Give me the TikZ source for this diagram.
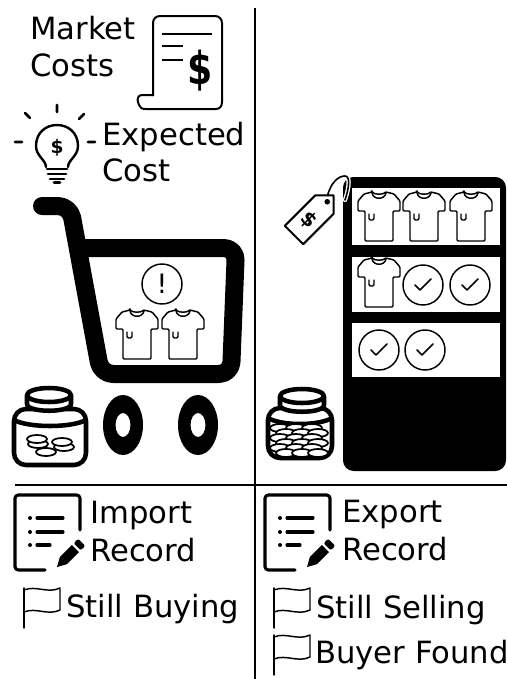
\documentclass[tikz,border=0pt]{standalone}
\usepackage{fontspec}
\usepackage{graphicx}
\setmainfont{DejaVu Sans}
\begin{document}
\begin{tikzpicture}[x=0.75pt,y=-0.75pt,
  lbl/.style={font=\fontsize{23}{27}\selectfont,inner sep=0pt,anchor=base west},
  icon/.style={line width=1.9pt,line cap=round,line join=round},
  fine/.style={line width=1.1pt,line cap=round,line join=round},
  rule/.style={line width=1.9pt},
  jarline/.style={line width=3.4pt,line join=round},
  coin/.style={line width=1.3pt,fill=white},
  flagline/.style={line width=1.1pt,line cap=round,line join=round},
  recline/.style={line width=2.3pt,line cap=round},
  tshirt/.pic={
    \draw[fine,fill=white,rounded corners=0.8pt] (-7,0) -- (-15,2) -- (-21,9) -- (-21,19) -- (-14,19)
      -- (-14,49) -- (14,49) -- (14,19) -- (21,19) -- (21,9) -- (15,2) -- (7,0)
      .. controls (6,8) and (-6,8) .. (-7,0) -- cycle;
    \draw[fine] (-7,0) .. controls (-4,3) and (4,3) .. (7,0);
    \draw[fine,rounded corners=1pt] (-10,22) -- (-10,28) -- (-5,28) -- (-5,22);
  },
  checkcircle/.pic={
    \draw[fine,fill=white] (0,0) circle (20);
    \draw[fine] (-8,0) -- (-3,5) -- (8,-6);
  },
  recordicon/.pic={
    \draw[recline,rounded corners=2.5pt] (65,35) -- (65,0) -- (0,0) -- (0,75) -- (30,75);
    \fill (15,23) circle (2) (15,37) circle (2) (15,50) circle (2);
    \draw[recline] (22,23) -- (48,23) (22,37) -- (48,37) (22,50) -- (35,50);
    \begin{scope}[shift={(42,72)},rotate=45]
      \fill (0,0) -- (9,-5) -- (26,-5) -- (26,5) -- (9,5) -- cycle;
      \fill[rounded corners=1.5pt] (28.5,-5) rectangle (35,5);
    \end{scope}
  },
  flagicon/.pic={
    \draw[flagline] (0,0) -- (0,40);
    \draw[flagline] (0,2) .. controls (12,-3) and (24,6) .. (36,0) -- (36,22)
      .. controls (24,28) and (12,19) .. (0,24);
  }
]
\fill[white] (0,0) rectangle (507,679);
\useasboundingbox (0,0) rectangle (507,679);

% dividers
\draw[rule] (255,8) -- (255,679);
\draw[rule] (15,485) -- (507,485);

% ---------- market costs: receipt ----------
\draw[line width=1.5pt,line join=round,fill=white] (153,96) -- (153,23) .. controls (153,19) and (156,16) .. (160,16)
  -- (215,16) .. controls (219,16) and (222,19) .. (222,23) -- (222,102);
\draw[line width=1.5pt,line join=round] (153,95) -- (142,95) .. controls (138,95) and (137,99) .. (138,102)
  -- (139,105) .. controls (140,108) and (142,109) .. (146,109) -- (216,109)
  .. controls (220,109) and (222,106) .. (222,102);
\draw[line width=1.6pt] (162,34) -- (212,34) (162,46) -- (183,46) (162,60) -- (183,60);
\node[font=\bfseries\fontsize{34}{34}\selectfont,inner sep=0pt] (receiptSign) at (200,71) {\scalebox{0.8}[1]{\$}};
\node[lbl] (txtMarket) at (30,39.5) {Market};
\node[lbl] (txtCosts) at (30,76.5) {Costs};

% ---------- expected cost: light bulb ----------
\draw[icon,line width=1.8pt] (46,167) .. controls (46,160) and (36,156) .. (36,146)
  .. controls (36,118) and (78,118) .. (78,146) .. controls (78,156) and (68,160) .. (68,167);
\draw[line width=2.2pt,line cap=round] (47,169) -- (67,169) (48,174) -- (66,174) (50,179) -- (64,179) (54,182.5) -- (60,182.5);
\draw[icon] (57,105) -- (57,112) (25,113) -- (30,118) (84,114) -- (79,119) (15,142) -- (22,142) (88,142) -- (95,142);
\node[font=\bfseries\fontsize{14}{14}\selectfont,inner sep=0pt] (bulbSign) at (57,148) {\$};
\node[lbl] (txtExpected) at (102,145) {Expected};
\node[lbl] (txtCost) at (102,181) {Cost};

% ---------- shopping cart ----------
\draw[line width=13.5pt,line cap=round,line join=round,rounded corners=9pt]
  (42,206) -- (70,206) -- (101,374) -- (231,374) -- (236,248) -- (79,248);
\fill[even odd rule] (123,425) ellipse (20 and 30) (123,425) ellipse (7.5 and 12);
\fill[even odd rule] (198,425) ellipse (20 and 30) (198,425) ellipse (7.5 and 12);
\draw[fine] (162,284) circle (20);
\node[font=\fontsize{20}{20}\selectfont,inner sep=0pt] (alertMark) at (162,284) {!};
\pic at (137,310) {tshirt};
\pic at (183,310) {tshirt};

% ---------- coin jar (few coins) ----------
\begin{scope}[shift={(49,395)}]
  \draw[jarline,fill=white,rounded corners=9pt] (-35,14) rectangle (37,70);
  \draw[jarline] (-35,25) .. controls (-20,33) and (22,33) .. (37,25);
  \draw[coin] (-11,49) ellipse (10 and 4);
  \draw[coin] (-12,44) ellipse (10 and 4);
  \draw[coin] (15,52) ellipse (10 and 4);
  \draw[coin] (13,47) ellipse (10 and 4);
  \draw[coin] (-3,57) ellipse (10 and 4);
  \draw[jarline,fill=white] (-22,0) -- (-22,9) .. controls (-22,18) and (22,18) .. (22,9) -- (22,0);
  \draw[jarline,fill=white] (0,0) ellipse (22 and 7);
\end{scope}

% ---------- coin jar (full) ----------
\begin{scope}[shift={(302,396)}]
  \draw[jarline,fill=white,rounded corners=9pt] (-34,12) rectangle (30,62);
  \draw[jarline] (-34,22) .. controls (-20,30) and (16,30) .. (30,22);
  \foreach \yy/\off in {32/0,37/6,42/0,47/6,52/0,57/6}{
    \foreach \xx in {-20,-4,12}{
      \draw[coin] (\xx+\off-2,\yy) ellipse (10 and 4);
    }
  }
  \draw[jarline,fill=white] (-22,0) -- (-22,9) .. controls (-22,18) and (22,18) .. (22,9) -- (22,0);
  \draw[jarline,fill=white] (0,0) ellipse (22 and 7);
\end{scope}

% ---------- shelf ----------
\fill[rounded corners=8pt] (343,177) rectangle (506,471);
\fill[white] (352,188) rectangle (500,245);
\fill[white] (352,257) rectangle (500,312);
\fill[white] (352,323) rectangle (500,377);
\pic at (379,192) {tshirt};
\pic at (424,192) {tshirt};
\pic at (471,192) {tshirt};
\pic at (379,258) {tshirt};
\pic at (423,285) {checkcircle};
\pic at (470,285) {checkcircle};
\pic at (379,350) {checkcircle};
\pic at (425,350) {checkcircle};

% ---------- price tag ----------
\draw[white,line width=3.2pt,line cap=round] (326,203) .. controls (328,188) and (335,177) .. (344,176)
  .. controls (350,175) and (350,185) .. (345,200);
\draw[line width=1.2pt,line cap=round] (326,203) .. controls (328,188) and (335,177) .. (344,176)
  .. controls (350,175) and (350,185) .. (345,200);
\begin{scope}[shift={(294,235)},rotate=45]
  \draw[line width=1.5pt,line join=round,fill=white] (0,-13) -- (43,-13) -- (56,0) -- (43,13) -- (0,13) -- cycle;
  \fill (47,0) circle (2.8);
  \node[font=\bfseries\fontsize{15}{15}\selectfont,inner sep=0pt,rotate=-45] (tagSign) at (21,0) {\$};
\end{scope}

% ---------- records ----------
\pic at (15,495) {recordicon};
\node[lbl] (txtImport) at (90,523) {Import};
\node[lbl] (txtRecordL) at (90,561) {Record};
\pic at (265,495) {recordicon};
\node[lbl] (txtExport) at (342,522) {Export};
\node[lbl] (txtRecordR) at (342,560) {Record};

% ---------- status flags ----------
\pic at (24,588) {flagicon};
\node[lbl] (txtBuying) at (66,617) {Still Buying};
\pic at (274,588) {flagicon};
\node[lbl] (txtSelling) at (316,618) {Still Selling};
\pic at (274,635) {flagicon};
\node[lbl] (txtFound) at (315,663) {Buyer Found};
\end{tikzpicture}
\end{document}
